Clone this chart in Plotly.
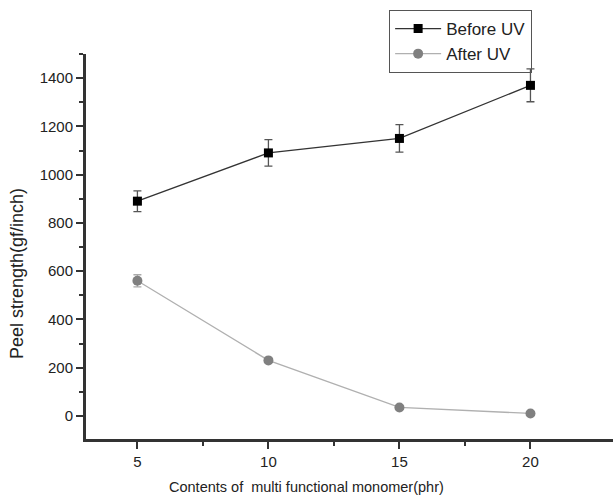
import plotly.graph_objects as go

x_vals = [5, 10, 15, 20]
before_uv = [890, 1090, 1150, 1370]
before_err = [43, 55, 57, 68]
after_uv = [560, 230, 35, 10]
after_err = [25, 8, 6, 4]

x_title = "Contents of  multi functional monomer(phr)"
y_title = "Peel strength(gf/inch)"

fig = go.Figure()
fig.add_trace(go.Scatter(
    x=x_vals, y=before_uv, name="Before UV", mode="lines+markers",
    line=dict(color="#333333", width=1.3),
    marker=dict(symbol="square", size=9, color="black"),
    error_y=dict(type="data", array=before_err, color="#555555", thickness=1.3, width=4),
))
fig.add_trace(go.Scatter(
    x=x_vals, y=after_uv, name="After UV", mode="lines+markers",
    line=dict(color="#b0b0b0", width=1.3),
    marker=dict(symbol="circle", size=10, color="#808080"),
    error_y=dict(type="data", array=after_err, color="#aaaaaa", thickness=1.3, width=4),
))

fam = "Arial, Liberation Sans, sans-serif"
tick_font = dict(family=fam, size=15, color="#222222")
fig.update_layout(
    width=613, height=502,
    margin=dict(l=85, r=0, t=54, b=62, autoexpand=False),
    paper_bgcolor="white", plot_bgcolor="white",
    font=dict(family=fam, color="#222222"),
    showlegend=True,
    legend=dict(x=0.576, y=1.114, xanchor="left", yanchor="top",
                bordercolor="#555555", borderwidth=1, bgcolor="rgba(255,255,255,0)",
                font=dict(size=17), tracegroupgap=0, itemwidth=46),
    xaxis=dict(range=[3, 23.15], tickvals=[5, 10, 15, 20], ticks="outside",
               ticklen=7, tickwidth=1.8, tickcolor="#333333",
               showline=True, linecolor="#333333", linewidth=2, showgrid=False, zeroline=False,
               tickfont=tick_font, automargin=False,
               minor=dict(tickvals=[7.5, 12.5, 17.5], ticks="outside", ticklen=4,
                          tickcolor="#333333", tickwidth=1.8)),
    yaxis=dict(range=[-100, 1500], tickvals=[0, 200, 400, 600, 800, 1000, 1200, 1400], ticks="outside",
               ticklen=7, tickwidth=1.8, tickcolor="#333333",
               showline=True, linecolor="#333333", linewidth=2, showgrid=False, zeroline=False,
               tickfont=tick_font, automargin=False,
               minor=dict(tickvals=[100, 300, 500, 700, 900, 1100, 1300, 1500], ticks="outside", ticklen=4,
                          tickcolor="#333333", tickwidth=1.8)),
    annotations=[
        dict(text=x_title, xref="paper", yref="paper", x=0.42, y=0, yshift=-47,
             xanchor="center", yanchor="middle", showarrow=False,
             font=dict(family=fam, size=14.5, color="#222222")),
        dict(text=y_title, xref="paper", yref="paper", x=0, xshift=-68, y=0.43,
             xanchor="center", yanchor="middle", textangle=-90, showarrow=False,
             font=dict(family=fam, size=18, color="#222222")),
    ],
)
# axis lines drawn as frame edges in paper coordinates
fig.add_shape(type="line", xref="paper", yref="paper", x0=0, x1=0, y0=0, y1=1,
              line=dict(color="#333333", width=2), layer="above")
fig.add_shape(type="line", xref="paper", yref="paper", x0=0, x1=1, y0=0, y1=0,
              line=dict(color="#333333", width=2), layer="above")
fig.write_html("out.html", config={"displayModeBar": False},
               post_script="document.body.style.margin='0';document.body.style.overflow='hidden';")
